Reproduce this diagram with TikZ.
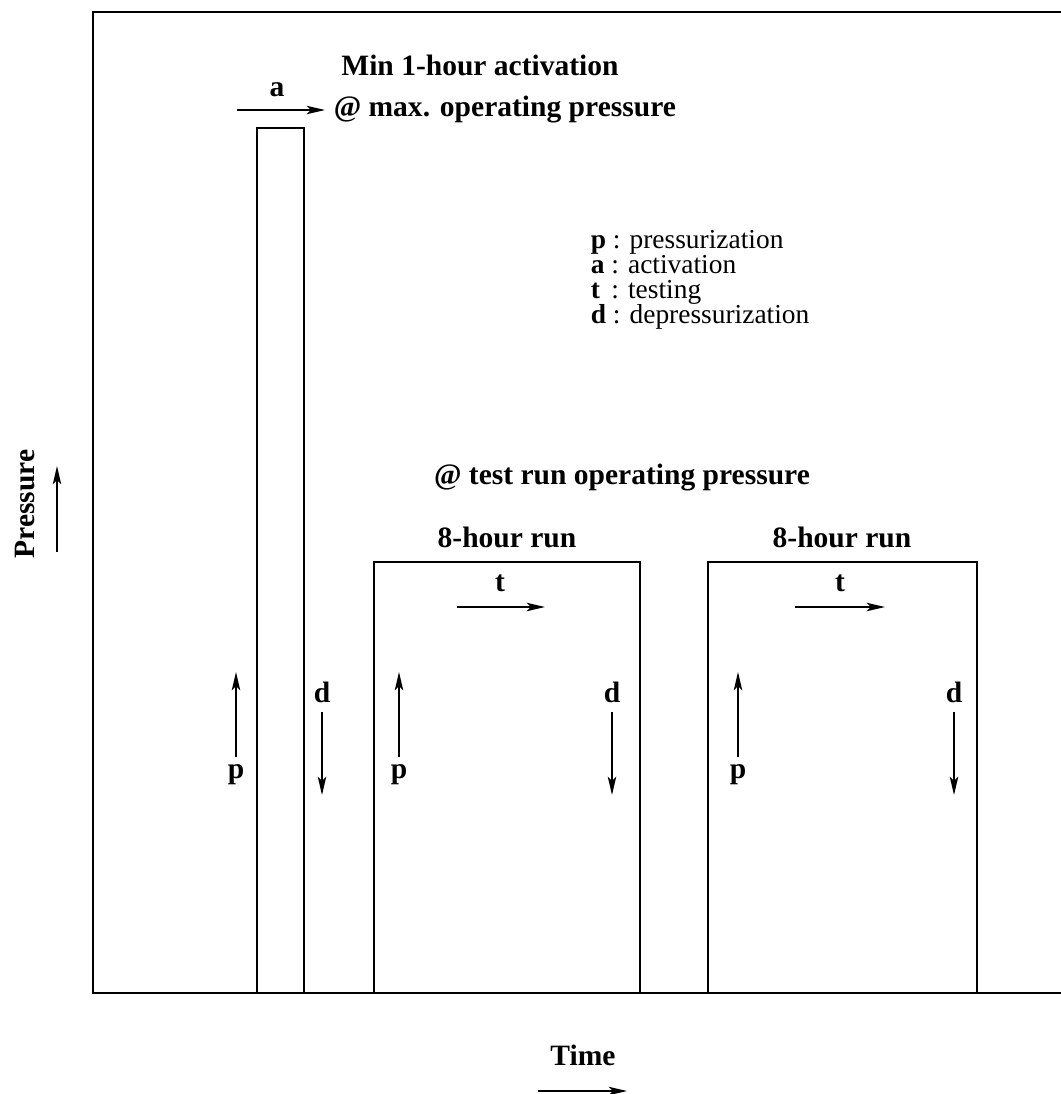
\documentclass[tikz,border=0pt]{standalone}
\usepackage{fontspec}
\setmainfont{Liberation Serif}
\usetikzlibrary{arrows.meta}
\tikzset{>={Stealth[length=13pt,width=6pt,inset=3pt]}}
\tikzset{lbl/.style={font=\fontsize{21}{24}\selectfont\bfseries, inner sep=0pt},
         key/.style={font=\fontsize{19.5}{22}\selectfont, inner sep=0pt, anchor=base west}}

\begin{document}
\begin{tikzpicture}[x=0.025cm, y=-0.025cm, line width=1.1pt]
    \useasboundingbox (0,0) rectangle (1061,1094);
    % frame
    \draw (1061,12) -- (93,12) -- (93,993) -- (1061,993);
    % activation and the two runs
    \draw (257,993) -- (257,128) -- (304,128) -- (304,993);
    \draw (374,993) -- (374,562) -- (640,562) -- (640,993);
    \draw (708,993) -- (708,562) -- (977,562) -- (977,993);

    % titles
    \node[lbl] (act1) at (480,65) {Min 1-hour activation};
    \node[lbl, anchor=west] (act2) at (333,110) {@ max. operating pressure};
    \node[lbl] (test) at (622,478) {@ test run operating pressure};
    \node[lbl] (run1) at (507,537) {8-hour run};
    \node[lbl] (run2) at (842,537) {8-hour run};

    % activation
    \node[lbl] (a) at (277,90) {a};
    \draw[->] (237,110) -- (325,110);

    % testing
    \node[lbl] (t1) at (500,583) {t};
    \draw[->] (457,607) -- (545,607);
    \node[lbl] (t2) at (840,583) {t};
    \draw[->] (795,607) -- (885,607);

    % pressurization
    \node[lbl] (p0) at (236,775) {p};
    \draw[->] (236,757) -- (236,672);
    \node[lbl] (p1) at (399,775) {p};
    \draw[->] (399,757) -- (399,672);
    \node[lbl] (p2) at (738,775) {p};
    \draw[->] (738,757) -- (738,672);

    % depressurization
    \node[lbl] (d0) at (322,692) {d};
    \draw[->] (322,712) -- (322,795);
    \node[lbl] (d1) at (612,692) {d};
    \draw[->] (612,712) -- (612,795);
    \node[lbl] (d2) at (954,692) {d};
    \draw[->] (954,712) -- (954,795);

    % key
    \node[key] (kp) at (590,248) {\textbf{p} : pressurization};
    \node[key] (ka) at (590,273) {\textbf{a} : activation};
    \node[key] (kt) at (590,298) {\textbf{t} \,: testing};
    \node[key] (kd) at (590,323) {\textbf{d} : depressurization};

    % axes
    \node[lbl, rotate=90] (pres) at (25,504) {Pressure};
    \draw[->] (57,552) -- (57,466);
    \node[lbl] (time) at (583,1055) {Time};
    \draw[->] (538,1091) -- (627,1091);
\end{tikzpicture}
\end{document}
